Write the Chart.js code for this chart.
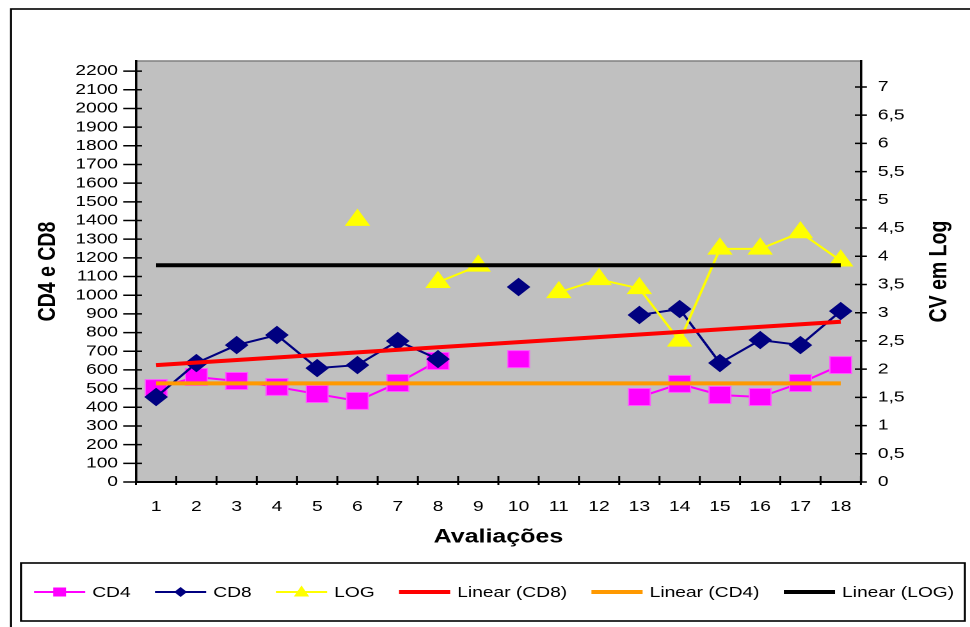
<!DOCTYPE html>
<html lang="pt">
<head>
<meta charset="UTF-8">
<title>CD4, CD8 e CV em Log</title>
<style>
  html, body { margin: 0; padding: 0; background: #fff; overflow: hidden; }
  /* the source picture is stretched sideways: draw narrow, then widen */
  #wrap { width: 758px; height: 627px; transform: scaleX(1.2797); transform-origin: 0 0; }
</style>
</head>
<body>
<div id="wrap"><canvas id="chart" width="758" height="627"></canvas></div>

<script src="https://cdn.jsdelivr.net/npm/chart.js@4"></script>
<script>
// data
const categories = ['1', '2', '3', '4', '5', '6', '7', '8', '9', '10', '11', '12', '13', '14', '15', '16', '17', '18'];
const cd4 = [503, 562, 541, 509, 471, 434, 530, 648, null, 658, null, null, 455, 525, 466, 455, 530, 626];
const cd8 = [455, 637, 733, 787, 610, 626, 755, 658, null, 1044, null, null, 894, 926, 637, 760, 733, 915];
const logCV = [null, null, null, null, null, 4.64, null, 3.54, 3.83, null, 3.36, 3.59, 3.43, 2.50, 4.13, 4.13, 4.42, 3.92];

// trend lines (end values only)
const linearCD8 = [626, null, null, null, null, null, null, null, null, null, null, null, null, null, null, null, null, 858];
const linearCD4 = [528, null, null, null, null, null, null, null, null, null, null, null, null, null, null, null, null, 528];
const linearLOG = [3.84, null, null, null, null, null, null, null, null, null, null, null, null, null, null, null, null, 3.84];

const leftTicks = [0, 100, 200, 300, 400, 500, 600, 700, 800, 900, 1000, 1100, 1200, 1300, 1400, 1500, 1600, 1700, 1800, 1900, 2000, 2100, 2200];
const rightTicks = [0, 0.5, 1, 1.5, 2, 2.5, 3, 3.5, 4, 4.5, 5, 5.5, 6, 6.5, 7];
const leftMax = 2254;
const rightMax = 7.46;

const FONT = 'Arial, "Liberation Sans", sans-serif';
Chart.defaults.font.family = FONT;
Chart.defaults.color = '#000';

function drawMark(ctx, style, x, y, color) {
    ctx.fillStyle = color;
    ctx.beginPath();
    if (style === 'rect') {
        ctx.rect(x - 5, y - 4.5, 10, 9);
    } else if (style === 'rectRot') {
        ctx.moveTo(x - 5, y); ctx.lineTo(x, y - 5); ctx.lineTo(x + 5, y); ctx.lineTo(x, y + 5);
    } else {
        ctx.moveTo(x, y - 6.5); ctx.lineTo(x + 6, y + 4.5); ctx.lineTo(x - 6, y + 4.5);
    }
    ctx.closePath();
    ctx.fill();
}

// frame, grey plot area, crossing tick marks, right title and legend
const chrome = {
    id: 'chrome',
    beforeDraw(chart) {
        const ctx = chart.ctx, a = chart.chartArea;
        ctx.save();
        ctx.fillStyle = '#fff';
        ctx.fillRect(0, 0, chart.width, chart.height);
        ctx.strokeStyle = '#000';
        ctx.lineWidth = 1.6;
        ctx.strokeRect(8.6, 9, 800, 700);
        ctx.fillStyle = '#c0c0c0';
        ctx.fillRect(a.left, a.top, a.right - a.left, a.bottom - a.top);
        ctx.strokeStyle = '#808080';
        ctx.lineWidth = 1.5;
        ctx.beginPath();
        ctx.moveTo(a.left, a.top);
        ctx.lineTo(a.right, a.top);
        ctx.stroke();
        ctx.restore();
    },
    afterDraw(chart) {
        const ctx = chart.ctx;
        const x = chart.scales.x, yl = chart.scales.y, yr = chart.scales.y1;
        ctx.save();

        ctx.strokeStyle = '#000';
        ctx.lineWidth = 1.5;
        ctx.beginPath();
        leftTicks.forEach(v => {
            const p = yl.getPixelForValue(v);
            ctx.moveTo(yl.right - 10, p);
            ctx.lineTo(yl.right + 4.7, p);
        });
        rightTicks.forEach(v => {
            const p = yr.getPixelForValue(v);
            ctx.moveTo(yr.left - 4.7, p);
            ctx.lineTo(yr.left + 4.7, p);
        });
        for (let k = 0; k <= categories.length; k++) {
            const p = x.left + k * (x.right - x.left) / categories.length;
            ctx.moveTo(p, x.top - 6);
            ctx.lineTo(p, x.top + 3);
        }
        ctx.stroke();

        // right axis title, reading upwards like the left one
        ctx.save();
        ctx.translate(734.2, 271.5);
        ctx.rotate(-Math.PI / 2);
        ctx.font = 'bold 19.5px ' + FONT;
        ctx.fillStyle = '#000';
        ctx.textAlign = 'center';
        ctx.textBaseline = 'middle';
        ctx.fillText('CV em Log', 0, 0);
        ctx.restore();

        // legend
        ctx.strokeStyle = '#000';
        ctx.lineWidth = 1.6;
        ctx.strokeRect(16.4, 563, 754 - 16.4, 621 - 563);
        ctx.font = '15px ' + FONT;
        ctx.textAlign = 'left';
        ctx.textBaseline = 'middle';
        let lx = 26.6;
        const ly = 592;
        chart.data.datasets.forEach(ds => {
            ctx.strokeStyle = ds.borderColor;
            ctx.lineWidth = ds.borderWidth;
            ctx.beginPath();
            ctx.moveTo(lx, ly);
            ctx.lineTo(lx + 40, ly);
            ctx.stroke();
            if (ds.pointRadius) drawMark(ctx, ds.pointStyle, lx + 20, ly, ds.pointBackgroundColor);
            ctx.fillStyle = '#000';
            ctx.fillText(ds.label, lx + 45.5, ly + 1);
            lx += 45.5 + ctx.measureText(ds.label).width + 19;
        });
        ctx.restore();
    }
};

new Chart(document.getElementById('chart'), {
    type: 'line',
    data: {
        labels: categories,
        datasets: [
            {
                label: 'CD4', data: cd4, yAxisID: 'y', order: 3,
                borderColor: '#ff00ff', borderWidth: 2, spanGaps: false,
                pointStyle: 'rect', pointRadius: 12,
                pointBackgroundColor: '#ff00ff', pointBorderColor: '#ff55ff', pointBorderWidth: 1
            },
            {
                label: 'CD8', data: cd8, yAxisID: 'y', order: 2,
                borderColor: '#000080', borderWidth: 2, spanGaps: false,
                pointStyle: 'rectRot', pointRadius: 8.5,
                pointBackgroundColor: '#000080', pointBorderColor: '#000080', pointBorderWidth: 1
            },
            {
                label: 'LOG', data: logCV, yAxisID: 'y1', order: 1,
                borderColor: '#ffff00', borderWidth: 2, spanGaps: false,
                pointStyle: 'triangle', pointRadius: 10.5,
                pointBackgroundColor: '#ffff00', pointBorderColor: '#ffff00', pointBorderWidth: 1
            },
            {
                label: 'Linear (CD8)', data: linearCD8, yAxisID: 'y', order: 0,
                borderColor: '#ff0000', borderWidth: 4, spanGaps: true, pointRadius: 0
            },
            {
                label: 'Linear (CD4)', data: linearCD4, yAxisID: 'y', order: 0,
                borderColor: '#ff9900', borderWidth: 4, spanGaps: true, pointRadius: 0
            },
            {
                label: 'Linear (LOG)', data: linearLOG, yAxisID: 'y1', order: 0,
                borderColor: '#000000', borderWidth: 4, spanGaps: true, pointRadius: 0
            }
        ]
    },
    options: {
        responsive: false,
        animation: false,
        devicePixelRatio: 2,
        events: [],
        layout: { padding: { top: 61, left: 0, right: 0, bottom: 0 } },
        plugins: { legend: { display: false }, tooltip: { enabled: false } },
        elements: { line: { tension: 0 } },
        scales: {
            x: {
                type: 'category',
                offset: true,
                grid: { offset: true, drawOnChartArea: false, drawTicks: false },
                border: { display: true, color: '#000', width: 2 },
                ticks: { font: { size: 15 }, padding: 16, maxRotation: 0, autoSkip: false },
                title: {
                    display: true, text: 'Avaliações',
                    font: { size: 19.5, weight: 'bold' },
                    padding: { top: 0, bottom: 78.3 }
                },
                afterFit: s => { s.height = 145; }
            },
            y: {
                position: 'left',
                min: 0, max: leftMax, bounds: 'data',
                grid: { drawOnChartArea: false, drawTicks: false },
                border: { display: true, color: '#000', width: 1.8 },
                afterBuildTicks: s => { s.ticks = leftTicks.map(v => ({ value: v })); },
                ticks: { font: { size: 15 }, padding: 14, autoSkip: false, callback: v => String(v) },
                title: {
                    display: true, text: 'CD4 e CD8',
                    font: { size: 19.5, weight: 'bold' },
                    padding: { top: 25.7, bottom: 0 }
                },
                afterFit: s => { s.width = 106.25; }
            },
            y1: {
                position: 'right',
                min: 0, max: rightMax, bounds: 'data',
                grid: { drawOnChartArea: false, drawTicks: false },
                border: { display: true, color: '#000', width: 1.8 },
                afterBuildTicks: s => { s.ticks = rightTicks.map(v => ({ value: v })); },
                ticks: { font: { size: 15 }, padding: 13.3, autoSkip: false, callback: v => String(v).replace('.', ',') },
                afterFit: s => { s.width = 758 - 672.7; }
            }
        }
    },
    plugins: [chrome]
});
</script>
</body>
</html>
